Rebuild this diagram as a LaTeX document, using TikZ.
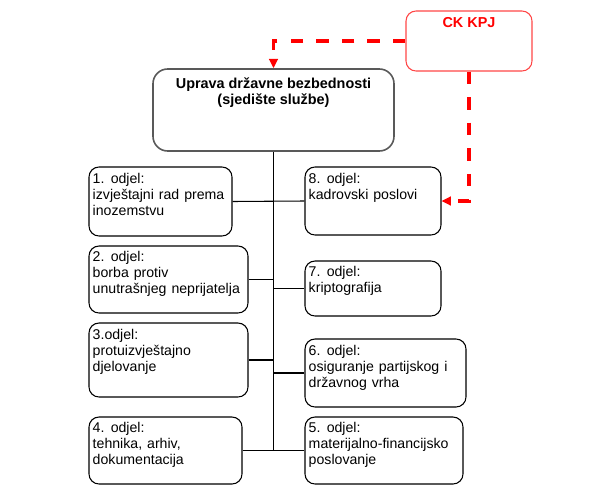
\documentclass[tikz,border=0pt]{standalone}
\usepackage{fontspec}
\setmainfont{Liberation Sans}
\usetikzlibrary{fit,arrows.meta}
\definecolor{kred}{RGB}{255,0,0}
\definecolor{kbord}{RGB}{255,70,70}
\tikzset{
  box/.style={draw=black, line width=0.8pt, rounded corners=7.5pt, inner sep=0pt, fill=white},
  mainbox/.style={draw=black!65, line width=1.2pt, rounded corners=11pt, inner sep=0pt},
  ckbox/.style={draw=kbord, line width=0.8pt, rounded corners=7.5pt, inner sep=0pt},
  txt/.style={anchor=base west, inner sep=0pt, font=\fontsize{10.6}{11.85}\selectfont},
  ctxt/.style={anchor=base, inner sep=0pt, font=\fontsize{10.8}{11.85}\selectfont\bfseries},
  conn/.style={draw=black, line width=0.8pt},
  reddash/.style={draw=kred, line width=2.4pt, dash pattern=on 9.4pt off 9.8pt,
    -{Triangle[length=7pt,width=6.5pt]}}
}
\newcommand{\lines}[1]{\parbox[t]{160pt}{\raggedright\spaceskip=0.35em plus 0.1em #1}}
\newcommand{\clines}[1]{\parbox[t]{220pt}{\centering #1}}
\begin{document}
\begin{tikzpicture}[x=0.75pt,y=-0.75pt]
\useasboundingbox (0,0) rectangle (600,500);
% boxes
\node[mainbox, fit={(153,69)(394,151)}] (main) {};
\node[ckbox, fit={(406,11)(532,71)}] (ck) {};
\node[box, fit={(89,167)(232,236)}] (b1) {};
\node[box, fit={(89,246)(248,313)}] (b2) {};
\node[box, fit={(89,323)(248,397)}] (b3) {};
\node[box, fit={(89,417)(242,484)}] (b4) {};
\node[box, fit={(305,167)(441,235)}] (b8) {};
\node[box, fit={(305,261)(441,316)}] (b7) {};
\node[box, fit={(305,339)(466,407)}] (b6) {};
\node[box, fit={(305,417)(463,484)}] (b5) {};
% texts
\node[ctxt] (tm) at ([shift={(0,20)}]main.north) {\clines{Uprava državne bezbednosti\\(sjedište službe)}};
\node[ctxt, text=kred] (tck) at ([shift={(0,17)}]ck.north) {CK KPJ};
\node[txt] (t1) at ([shift={(4,17.5)}]b1.north west) {\lines{1. odjel:\\izvještajni rad prema\\inozemstvu}};
\node[txt] (t2) at ([shift={(4,16.5)}]b2.north west) {\lines{2. odjel:\\borba protiv\\unutrašnjeg neprijatelja}};
\node[txt] (t3) at ([shift={(4,17.5)}]b3.north west) {\lines{3.odjel:\\protuizvještajno\\djelovanje}};
\node[txt] (t4) at ([shift={(4,16.5)}]b4.north west) {\lines{4. odjel:\\tehnika, arhiv,\\dokumentacija}};
\node[txt] (t8) at ([shift={(4,17.5)}]b8.north west) {\lines{8. odjel:\\kadrovski poslovi}};
\node[txt] (t7) at ([shift={(4,16.5)}]b7.north west) {\lines{7. odjel:\\kriptografija}};
\node[txt] (t6) at ([shift={(4,17.5)}]b6.north west) {\lines{6. odjel:\\osiguranje partijskog i\\državnog vrha}};
\node[txt] (t5) at ([shift={(4,16.5)}]b5.north west) {\lines{5. odjel:\\materijalno-financijsko\\poslovanje}};
% connectors
\draw[conn] (main.south) -- (main.south |- b4.east);
\draw[conn] (b1.east) -- (b8.west);
\draw[conn] (b2.east) -- (b2.east -| main.south);
\draw[conn] (b3.east) -- (b3.east -| main.south);
\draw[conn] (b7.west -| main.south) -- (b7.west);
\draw[conn] (b6.west -| main.south) -- (b6.west);
\draw[conn] (b4.east) -- (b5.west);
% red dashed links
\draw[reddash] (ck.west) -| (main.north);
\draw[reddash] (ck.south) |- (b8.east);
\end{tikzpicture}
\end{document}
